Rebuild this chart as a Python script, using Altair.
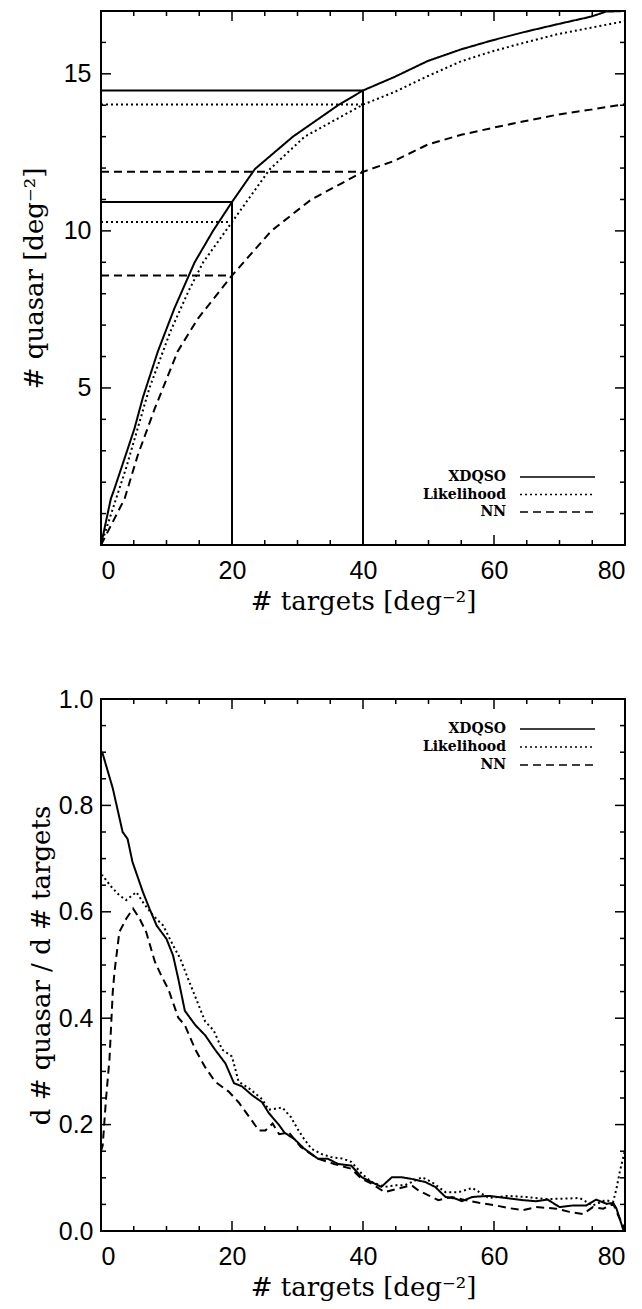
import altair as alt
import pandas as pd

methods = ["XDQSO", "Likelihood", "NN"]
dash_range = [[1, 0], [2, 3], [8, 5]]

# ---------- top panel: cumulative quasar density vs target density ----------
top_xdqso_x = [0, 1.5, 2.05, 3.57, 5.1, 6.4, 8.66, 11.2, 14.3, 17.1, 20, 23.5, 29.3, 36.2, 40,
               44.8, 49.9, 55.0, 59.8, 64.6, 69.7, 74.8, 77.1, 80]
top_xdqso_y = [0, 1.47, 1.79, 2.74, 3.70, 4.7, 6.15, 7.53, 9.0, 10.0, 10.92, 11.97, 13.0, 14.0, 14.47,
               14.9, 15.41, 15.78, 16.07, 16.33, 16.58, 16.82, 16.98, 17.0]
top_like_x = [0, 2.3, 3.8, 7.4, 10.6, 13.4, 15.6, 20, 25.8, 31.1, 40, 44.8, 49.9, 55, 59.8, 64.6,
              69.7, 74.8, 79.6, 80]
top_like_y = [0, 1.47, 2.43, 5.0, 6.8, 8.1, 9.0, 10.28, 11.97, 13.0, 14.02, 14.42, 14.93, 15.4,
              15.72, 15.99, 16.26, 16.47, 16.66, 16.68]
top_nn_x = [0, 1.0, 3.6, 5.6, 8.2, 11.7, 14.8, 20, 26.0, 32.1, 40, 44.8, 49.9, 55, 59.8, 64.6,
            69.7, 74.8, 79.6, 80]
top_nn_y = [0, 0.41, 1.47, 2.85, 4.34, 6.16, 7.21, 8.58, 10.0, 11.0, 11.88, 12.23, 12.75, 13.06,
            13.28, 13.49, 13.7, 13.86, 14.02, 14.03]

ref_targets = [20, 40]
ref_xdqso = [10.92, 14.47]
ref_like = [10.28, 14.02]
ref_nn = [8.58, 11.88]

# ---------- bottom panel: derivative ----------
bot_xdqso_x = [0, 0.26, 1.8, 3.3, 4.06, 4.8, 6.4, 7.4, 8.5, 10.0, 11.0, 11.8, 12.8, 14.4, 15.9,
               17.4, 19.0, 20.3, 21.5, 23.1, 24.6, 25.6, 27.2, 28.0, 29.5, 31.0, 33.1, 34.6, 36.2,
               38.2, 39.8, 41.3, 42.8, 44.4, 45.9, 47.4, 49.5, 51.0, 52.6, 54.1, 55.1, 56.7, 59.2,
               61.8, 64.4, 66.4, 68.2, 70.0, 72.1, 74.1, 75.6, 77.2, 78.2, 78.7, 79.8]
bot_xdqso_y = [0.902, 0.897, 0.832, 0.75, 0.737, 0.694, 0.637, 0.606, 0.574, 0.549, 0.518, 0.474,
               0.414, 0.387, 0.368, 0.341, 0.315, 0.278, 0.272, 0.255, 0.242, 0.222, 0.199, 0.185,
               0.173, 0.155, 0.136, 0.136, 0.126, 0.123, 0.101, 0.092, 0.083, 0.101, 0.101, 0.098,
               0.092, 0.083, 0.064, 0.061, 0.056, 0.064, 0.066, 0.062, 0.058, 0.056, 0.059, 0.045,
               0.048, 0.048, 0.059, 0.051, 0.053, 0.042, 0.0]
bot_like_x = [0, 0.26, 1.5, 2.8, 3.85, 5.4, 6.4, 7.95, 9.5, 11.0, 12.1, 13.3, 14.4, 15.9, 17.2,
              18.5, 20.0, 21.0, 22.6, 24.6, 25.6, 27.7, 29.0, 30.0, 31.0, 32.1, 33.6, 35.1, 36.9,
              38.2, 39.8, 41.3, 43.3, 44.9, 46.4, 49.0, 50.5, 52.6, 54.6, 56.7, 59.2, 62.0, 64.9,
              68.0, 71.0, 73.1, 75.1, 77.0, 78.2, 78.7, 79.2, 80.0]
bot_like_y = [0.668, 0.668, 0.648, 0.631, 0.622, 0.637, 0.618, 0.593, 0.574, 0.537, 0.512, 0.474,
              0.44, 0.394, 0.377, 0.341, 0.328, 0.281, 0.268, 0.248, 0.228, 0.232, 0.214, 0.192,
              0.173, 0.155, 0.145, 0.139, 0.136, 0.13, 0.108, 0.092, 0.083, 0.086, 0.086, 0.101,
              0.092, 0.073, 0.073, 0.081, 0.062, 0.066, 0.064, 0.06, 0.061, 0.062, 0.048, 0.058,
              0.055, 0.08, 0.111, 0.152]
bot_nn_x = [0.0, 0.26, 0.77, 1.3, 1.8, 2.06, 2.8, 3.85, 4.9, 5.9, 6.9, 8.2, 9.2, 10.3, 11.8, 12.8,
            14.4, 15.9, 17.4, 19.5, 21.0, 22.6, 24.1, 25.1, 26.2, 27.2, 28.7, 30.5, 33.1, 35.6,
            38.2, 39.8, 41.3, 43.3, 45.4, 47.4, 48.5, 50.0, 51.5, 53.6, 55.6, 57.7, 60.3, 62.3,
            64.4, 66.4, 69.5, 71.5, 73.6, 75.1, 76.7, 78.2, 79.2, 80.0]
bot_nn_y = [0.15, 0.161, 0.249, 0.324, 0.45, 0.487, 0.562, 0.587, 0.606, 0.587, 0.562, 0.507,
            0.48, 0.454, 0.401, 0.387, 0.341, 0.308, 0.281, 0.262, 0.242, 0.215, 0.189, 0.189,
            0.202, 0.182, 0.185, 0.158, 0.136, 0.126, 0.117, 0.098, 0.089, 0.073, 0.08, 0.086,
            0.076, 0.067, 0.058, 0.064, 0.058, 0.053, 0.048, 0.043, 0.039, 0.045, 0.042, 0.036,
            0.032, 0.045, 0.042, 0.051, 0.023, 0.003]

x_major = [0, 20, 40, 60, 80]
x_minor = [5, 10, 15, 25, 30, 35, 45, 50, 55, 65, 70, 75]
top_y_major = [5, 10, 15]
top_y_minor = [1, 2, 3, 4, 6, 7, 8, 9, 11, 12, 13, 14, 16]
bot_y_major = [0.2, 0.4, 0.6, 0.8]
bot_y_labels = [0.0, 0.2, 0.4, 0.6, 0.8, 1.0]
bot_y_minor = [0.05, 0.1, 0.15, 0.25, 0.3, 0.35, 0.45, 0.5, 0.55, 0.65, 0.7, 0.75, 0.85, 0.9, 0.95]

W = 524
H_TOP = 534
H_BOT = 532
LABEL_FONT = "Liberation Sans"
TITLE_FONT = "DejaVu Serif"
TITLE_SIZE = 26


def curves_df(xs_list, ys_list):
    rows = []
    for m, xs, ys in zip(methods, xs_list, ys_list):
        for i, (a, b) in enumerate(zip(xs, ys)):
            rows.append({"method": m, "x": a, "y": b, "order": i})
    return pd.DataFrame(rows)


dash_scale = alt.Scale(domain=methods, range=dash_range)


def tick_layers(xs_major, xs_minor, ys_major, ys_minor, width, height):
    layers = []
    for vals, ln in ((xs_major, 10), (xs_minor, 5)):
        d = pd.DataFrame({"x": vals})
        layers.append(alt.Chart(d).mark_rule(color="black", strokeWidth=1.5).encode(
            x="x:Q", y=alt.value(height), y2=alt.value(height - ln)))
        layers.append(alt.Chart(d).mark_rule(color="black", strokeWidth=1.5).encode(
            x="x:Q", y=alt.value(0), y2=alt.value(ln)))
    for vals, ln in ((ys_major, 10), (ys_minor, 5)):
        d = pd.DataFrame({"y": vals})
        layers.append(alt.Chart(d).mark_rule(color="black", strokeWidth=1.5).encode(
            y="y:Q", x=alt.value(0), x2=alt.value(ln)))
        layers.append(alt.Chart(d).mark_rule(color="black", strokeWidth=1.5).encode(
            y="y:Q", x=alt.value(width), x2=alt.value(width - ln)))
    return layers


def legend_layers(y0, step):
    layers = []
    for i, m in enumerate(methods):
        yy = y0 + i * step
        d = pd.DataFrame({"label": [m]})
        layers.append(alt.Chart(d).mark_text(
            align="right", baseline="middle", font=TITLE_FONT, fontWeight="bold",
            fontSize=14, color="black").encode(
            text="label:N", x=alt.value(405), y=alt.value(yy)))
        layers.append(alt.Chart(d).mark_rule(
            color="black", strokeWidth=1.5, strokeDash=dash_range[i]).encode(
            x=alt.value(419), x2=alt.value(494), y=alt.value(yy)))
    return layers


def x_axis():
    return alt.Axis(values=x_major, title="# targets [deg⁻²]", labelPadding=13,
                    titlePadding=5, titleFont=TITLE_FONT, titleFontSize=TITLE_SIZE)


# ----- top chart -----
top_df = curves_df([top_xdqso_x, top_like_x, top_nn_x], [top_xdqso_y, top_like_y, top_nn_y])
xs_top = alt.Scale(domain=[0, 80], nice=False, zero=False)
ys_top = alt.Scale(domain=[0, 17], nice=False, zero=False)

top_curves = alt.Chart(top_df).mark_line(color="black", strokeWidth=2).encode(
    x=alt.X("x:Q", scale=xs_top, axis=x_axis()),
    y=alt.Y("y:Q", scale=ys_top,
            axis=alt.Axis(values=top_y_major, title="# quasar [deg⁻²]", labelPadding=10,
                          titlePadding=16, titleFont=TITLE_FONT, titleFontSize=TITLE_SIZE)),
    strokeDash=alt.StrokeDash("method:N", scale=dash_scale, legend=None),
    order="order:Q",
    detail="method:N",
)

ref_rows = []
for m, vals in zip(methods, [ref_xdqso, ref_like, ref_nn]):
    for t, v in zip(ref_targets, vals):
        ref_rows.append({"method": m, "x": 0, "x1": t, "y": v})
ref_df = pd.DataFrame(ref_rows)

ref_h = alt.Chart(ref_df).mark_rule(color="black", strokeWidth=2).encode(
    x="x:Q", x2="x1:Q", y="y:Q",
    strokeDash=alt.StrokeDash("method:N", scale=dash_scale, legend=None),
)
ref_v_df = pd.DataFrame({"x": ref_targets, "y": [0, 0], "q": ref_xdqso})
ref_v = alt.Chart(ref_v_df).mark_rule(color="black", strokeWidth=2).encode(
    x="x:Q", y="y:Q", y2="q:Q")

top = alt.layer(
    top_curves, ref_h, ref_v,
    *tick_layers(x_major, x_minor, top_y_major, top_y_minor, W, H_TOP),
    *legend_layers(466, 17.5),
).properties(width=W, height=H_TOP)

# ----- bottom chart -----
bot_df = curves_df([bot_xdqso_x, bot_like_x, bot_nn_x], [bot_xdqso_y, bot_like_y, bot_nn_y])
xs_bot = alt.Scale(domain=[0, 80], nice=False, zero=False)
ys_bot = alt.Scale(domain=[0, 1.0], nice=False, zero=False)

bot_curves = alt.Chart(bot_df).mark_line(color="black", strokeWidth=2).encode(
    x=alt.X("x:Q", scale=xs_bot, axis=x_axis()),
    y=alt.Y("y:Q", scale=ys_bot,
            axis=alt.Axis(values=bot_y_labels, format=".1f", title="d # quasar / d # targets",
                          labelPadding=8, titlePadding=4, titleFont=TITLE_FONT,
                          titleFontSize=TITLE_SIZE)),
    strokeDash=alt.StrokeDash("method:N", scale=dash_scale, legend=None),
    order="order:Q",
    detail="method:N",
)

bottom = alt.layer(
    bot_curves,
    *tick_layers(x_major, x_minor, bot_y_major, bot_y_minor, W, H_BOT),
    *legend_layers(30, 18),
).properties(width=W, height=H_BOT)

chart = alt.vconcat(top, bottom, spacing=154, bounds="flush").properties(
    padding={"left": 20, "top": 6, "right": 10, "bottom": 10}
).configure_view(
    stroke="black", strokeWidth=2
).configure_axis(
    grid=False, ticks=False, domain=False,
    labelFont=LABEL_FONT, labelFontSize=25, labelColor="black",
    titleFont=TITLE_FONT, titleFontSize=TITLE_SIZE, titleFontWeight="normal", titleColor="black",
)

chart.save("out.html", embed_options={"renderer": "svg", "actions": False})
